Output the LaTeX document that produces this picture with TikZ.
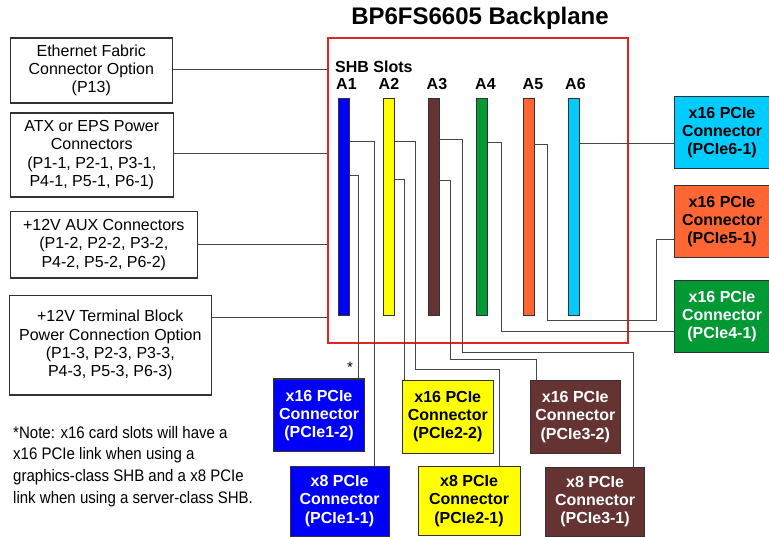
\documentclass[tikz,border=0pt]{standalone}
\usepackage{fontspec}
\setmainfont{Liberation Sans}
\newfontfamily\narrowfont[FakeStretch=0.9]{Liberation Sans}
\definecolor{sblue}{RGB}{0,0,250}
\definecolor{syellow}{RGB}{255,255,0}
\definecolor{sbrown}{RGB}{102,51,51}
\definecolor{sgreen}{RGB}{0,153,51}
\definecolor{sorange}{RGB}{255,102,51}
\definecolor{scyan}{RGB}{0,204,255}
\definecolor{sred}{RGB}{224,36,36}
\definecolor{wire}{RGB}{70,70,70}
\definecolor{edge}{RGB}{50,50,50}
\tikzset{
  lbox/.style={draw=edge, line width=1.1pt, fill=white, anchor=north west, inner sep=0pt, align=center,
    font=\fontsize{16}{18.3}\selectfont},
  pbox/.style={draw=edge, line width=1.1pt, anchor=north west, inner sep=0pt, align=center,
    font=\fontsize{16}{18.2}\selectfont\bfseries},
  slotbox/.style={draw=edge, line width=0.9pt, anchor=north west, inner sep=0pt, minimum width=11pt, minimum height=217pt},
  conn/.style={draw=wire, line width=0.9pt},
  slotlbl/.style={anchor=base west, inner sep=0pt, font=\fontsize{16}{18}\selectfont\bfseries},
}
\begin{document}
\begin{tikzpicture}[x=1pt,y=-1pt]
\useasboundingbox (0,0) rectangle (769,537);
% title
\node[font=\fontsize{24}{28}\selectfont\bfseries, inner sep=0pt] (title) at (480,18.5) {BP6FS6605 Backplane};
% backplane
\node[draw=sred, line width=2.2pt, anchor=north west, inner sep=0pt, minimum width=300pt, minimum height=305pt] (bp) at (327,37) {};
\node[slotlbl] (shb) at (335,73) {SHB Slots};
\node[slotlbl] (la1) at (336,90) {A1};
\node[slotlbl] (la2) at (378.5,90) {A2};
\node[slotlbl] (la3) at (426.5,90) {A3};
\node[slotlbl] (la4) at (475,90) {A4};
\node[slotlbl] (la5) at (522.5,90) {A5};
\node[slotlbl] (la6) at (565,90) {A6};
% slots
\node[slotbox, fill=sblue] (s1) at (338,98) {};
\node[slotbox, fill=syellow] (s2) at (383,98) {};
\node[slotbox, fill=sbrown] (s3) at (427.5,98) {};
\node[slotbox, fill=sgreen] (s4) at (476,98) {};
\node[slotbox, fill=sorange] (s5) at (522.5,98) {};
\node[slotbox, fill=scyan] (s6) at (568,98) {};
% left boxes
\node[lbox, minimum width=162.5pt, minimum height=65pt] (eth) at (9.5,37.5) {Ethernet Fabric\\Connector Option\\(P13)};
\node[lbox, minimum width=162.5pt, minimum height=84pt] (atx) at (10,112.5) {ATX or EPS Power\\Connectors\\(P1-1, P2-1, P3-1,\\P4-1, P5-1, P6-1)};
\node[lbox, minimum width=186.5pt, minimum height=66.5pt] (aux) at (10,211) {+12V AUX Connectors\\(P1-2, P2-2, P3-2,\\P4-2, P5-2, P6-2)};
\node[lbox, minimum width=201.5pt, minimum height=99.5pt] (tb) at (9,295) {+12V Terminal Block\\Power Connection Option\\(P1-3, P2-3, P3-3,\\P4-3, P5-3, P6-3)};
% right boxes
\node[pbox, fill=scyan, minimum width=96pt, minimum height=72pt] (p61) at (673.5,96) {x16 PCIe\\Connector\\(PCIe6-1)};
\node[pbox, fill=sorange, minimum width=96pt, minimum height=72pt] (p51) at (673.5,185) {x16 PCIe\\Connector\\(PCIe5-1)};
\node[pbox, fill=sgreen, text=white, minimum width=96pt, minimum height=72pt] (p41) at (673.5,280) {x16 PCIe\\Connector\\(PCIe4-1)};
% bottom boxes
\node[pbox, fill=sblue, text=white, minimum width=91pt, minimum height=72.5pt] (p12) at (273,378.5) {x16 PCIe\\Connector\\(PCIe1-2)};
\node[pbox, fill=sblue, text=white, minimum width=99pt, minimum height=70pt] (p11) at (289.5,465.5) {x8 PCIe\\Connector\\(PCIe1-1)};
\node[pbox, fill=syellow, minimum width=90.5pt, minimum height=72.5pt] (p22) at (402,380) {x16 PCIe\\Connector\\(PCIe2-2)};
\node[pbox, fill=syellow, minimum width=102pt, minimum height=69pt] (p21) at (417.5,466) {x8 PCIe\\Connector\\(PCIe2-1)};
\node[pbox, fill=sbrown, text=white, minimum width=90.5pt, minimum height=73pt] (p32) at (529.5,380) {x16 PCIe\\Connector\\(PCIe3-2)};
\node[pbox, fill=sbrown, text=white, minimum width=99pt, minimum height=68.5pt] (p31) at (545,467) {x8 PCIe\\Connector\\(PCIe3-1)};
% star
\node[inner sep=0pt, font=\fontsize{15}{15}\selectfont] (star) at (350,367) {*};
% left connectors
\draw[conn] (eth.east |- 0,69.5) -- (bp.west |- 0,69.5);
\draw[conn] (atx.east |- 0,153) -- (bp.west |- 0,153);
\draw[conn] (aux.east |- 0,244) -- (bp.west |- 0,244);
\draw[conn] (tb.east |- 0,317.5) -- (bp.west |- 0,317.5);
% slot connectors
\draw[conn] (s1.east |- 0,141) -- (374.5,141) -- (374.5,0 |- p11.north);
\draw[conn] (s1.east |- 0,175) -- (358,175) -- (358,0 |- p12.north);
\draw[conn] (s2.east |- 0,141) -- (415.5,141) -- (415.5,369) -- (499.5,369) -- (499.5,0 |- p21.north);
\draw[conn] (s2.east |- 0,179) -- (404.5,179) -- (404.5,0 |- p22.north);
\draw[conn] (s3.east |- 0,139) -- (462.5,139) -- (462.5,352) -- (633,352) -- (633,0 |- p31.north);
\draw[conn] (s3.east |- 0,180) -- (450,180) -- (450,359) -- (536,359) -- (536,0 |- p32.north);
\draw[conn] (s4.east |- 0,142) -- (501.5,142) -- (501.5,331) -- (p41.west |- 0,331);
\draw[conn] (s5.east |- 0,144.5) -- (547,144.5) -- (547,320.5) -- (656,320.5) -- (656,239) -- (p51.west |- 0,239);
\draw[conn] (s6.east |- 0,143.5) -- (p61.west |- 0,143.5);
% note
\node[anchor=north west, inner sep=0pt, align=left, font=\narrowfont\fontsize{16.7}{21.6}\selectfont] (note) at (13,426) {*Note: x16 card slots will have a\\x16 PCIe link when using a\\graphics-class SHB and a x8 PCIe\\link when using a server-class SHB.};
\end{tikzpicture}
\end{document}
